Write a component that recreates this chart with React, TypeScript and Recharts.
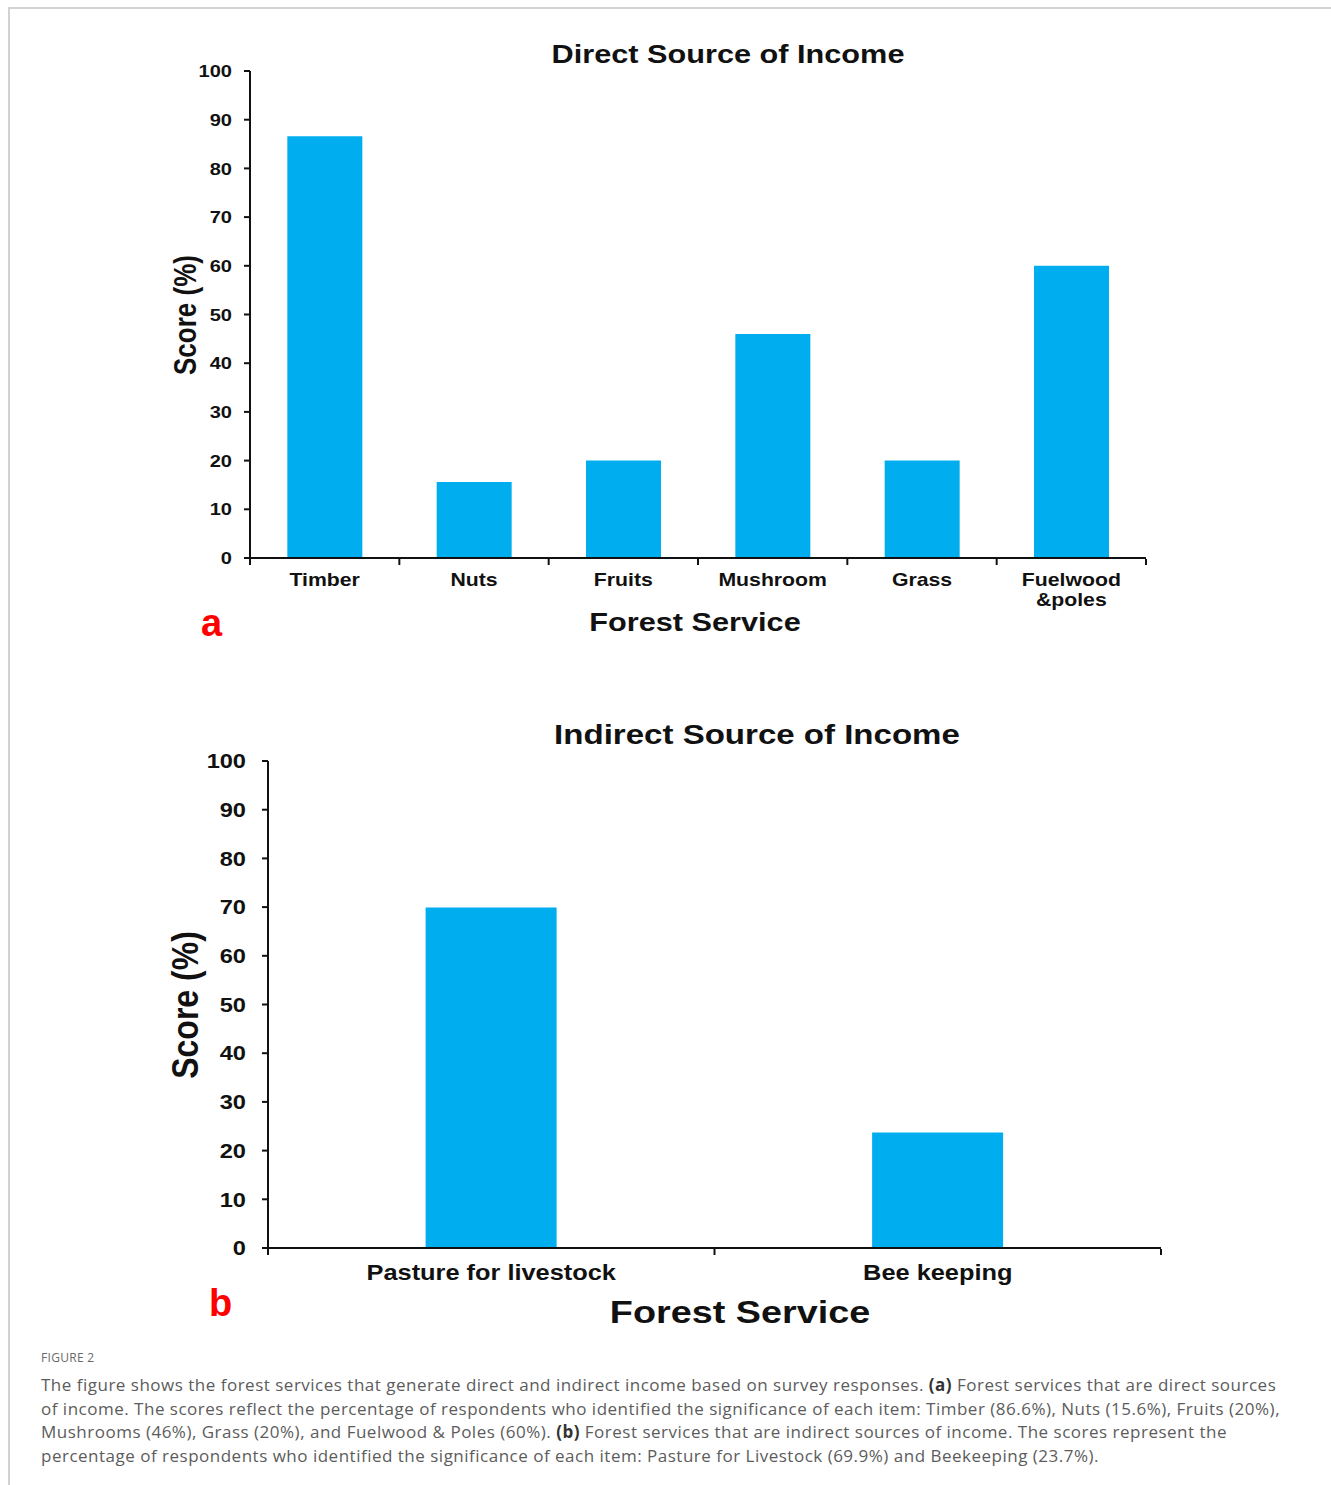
import { Bar, BarChart, XAxis, YAxis } from "recharts";

const directServices = ["Timber", "Nuts", "Fruits", "Mushroom", "Grass", "Fuelwood\n&poles"];
const directScores = [86.6, 15.6, 20, 46, 20, 60];
const indirectServices = ["Pasture for livestock", "Bee keeping"];
const indirectScores = [69.9, 23.7];
const scoreTicks = [0, 10, 20, 30, 40, 50, 60, 70, 80, 90, 100];

const BAR_COLOR = "#00aeef";
const INK = "#111";
const STRETCH = 1.18;
const FONT = '"Liberation Sans", Arial, Helvetica, sans-serif';

const directData = directServices.map((service, i) => ({ service, slot: i, score: directScores[i] }));
const indirectData = indirectServices.map((service, i) => ({ service, slot: i, score: indirectScores[i] }));

// tick marks sit on the category boundaries, so a hidden numeric axis draws them
const edgeTicks = (n: number) => Array.from({ length: n + 1 }, (_, i) => i);

function YTick(props: any) {
  const { x, y, payload, size } = props;
  return (
    <g transform={`translate(${x},${y}) scale(${STRETCH},1)`}>
      <text textAnchor="end" dy="0.36em" fontSize={size} fontWeight="bold" fill={INK} fontFamily={FONT}>
        {payload.value}
      </text>
    </g>
  );
}

function XTick(props: any) {
  const { x, y, payload, size, gap } = props;
  const lines = String(payload.value).split("\n");
  return (
    <g transform={`translate(${x},${y}) scale(${STRETCH},1)`}>
      {lines.map((line, i) => (
        <text
          key={i}
          y={i * gap}
          textAnchor="middle"
          dy="0.71em"
          fontSize={size}
          fontWeight="bold"
          fill={INK}
          fontFamily={FONT}
        >
          {line}
        </text>
      ))}
    </g>
  );
}

function Heading({ cx, top, size, children }: any) {
  return (
    <div
      style={{
        position: "absolute",
        left: cx - 400,
        width: 800,
        top,
        textAlign: "center",
        fontSize: size,
        lineHeight: 1,
        fontWeight: "bold",
        color: INK,
        whiteSpace: "nowrap",
        transform: `scaleX(${STRETCH})`,
      }}
    >
      {children}
    </div>
  );
}

function ScoreLabel({ cx, cy, size }: any) {
  return (
    <div
      style={{
        position: "absolute",
        left: cx - 150,
        top: cy - size / 2,
        width: 300,
        height: size,
        lineHeight: `${size}px`,
        textAlign: "center",
        fontSize: size,
        fontWeight: "bold",
        color: INK,
        transform: `rotate(-90deg) scaleY(${STRETCH})`,
      }}
    >
      Score (%)
    </div>
  );
}

function PanelLetter({ left, top, children }: any) {
  return (
    <div
      style={{
        position: "absolute",
        left,
        top,
        fontSize: 38,
        lineHeight: 1,
        fontWeight: "bold",
        color: "#ff0000",
      }}
    >
      {children}
    </div>
  );
}

function ScoreChart({ data, width, height, margin, gap, yTickSize, yTickMargin, xTickSize, xTickMargin }: any) {
  return (
    <BarChart width={width} height={height} data={data} margin={margin} barCategoryGap={gap}>
      <XAxis
        xAxisId="edge"
        dataKey="slot"
        type="number"
        domain={[0, data.length]}
        allowDataOverflow
        ticks={edgeTicks(data.length)}
        interval={0}
        height={1}
        axisLine={false}
        tickSize={6}
        tickLine={{ stroke: INK, strokeWidth: 2 }}
        tick={() => <g />}
      />
      <XAxis
        dataKey="service"
        height={1}
        interval={0}
        axisLine={{ stroke: INK, strokeWidth: 2 }}
        tickLine={false}
        tickSize={0}
        tickMargin={xTickMargin}
        tick={(p: any) => <XTick {...p} size={xTickSize} gap={20} />}
      />
      <YAxis
        width={60}
        domain={[0, 100]}
        ticks={scoreTicks}
        interval={0}
        axisLine={{ stroke: INK, strokeWidth: 2 }}
        tickLine={{ stroke: INK, strokeWidth: 2 }}
        tickSize={6}
        tickMargin={yTickMargin}
        tick={(p: any) => <YTick {...p} size={yTickSize} />}
      />
      <Bar dataKey="score" fill={BAR_COLOR} isAnimationActive={false} />
    </BarChart>
  );
}

export default function App() {
  return (
    <div
      style={{
        position: "absolute",
        left: 0,
        top: 0,
        width: 1331,
        height: 1485,
        background: "#fff",
        fontFamily: FONT,
        overflow: "hidden",
      }}
    >
      <div
        style={{
          position: "absolute",
          left: 8,
          top: 7,
          width: 1340,
          height: 1500,
          borderTop: "2px solid #d2d2d2",
          borderLeft: "2px solid #d2d2d2",
        }}
      />

      {/* (a) direct income */}
      <div style={{ position: "absolute", left: 0, top: 0 }}>
        <ScoreChart
          data={directData}
          width={1331}
          height={640}
          margin={{ top: 71, right: 185, bottom: 80, left: 190 }}
          gap="25%"
          yTickSize={17}
          yTickMargin={12}
          xTickSize={18}
          xTickMargin={15}
        />
      </div>
      <Heading cx={728} top={41} size={26}>
        Direct Source of Income
      </Heading>
      <Heading cx={695} top={609} size={26}>
        Forest Service
      </Heading>
      <ScoreLabel cx={185} cy={315} size={26} />
      <PanelLetter left={201} top={604}>
        a
      </PanelLetter>

      {/* (b) indirect income */}
      <div style={{ position: "absolute", left: 0, top: 700 }}>
        <ScoreChart
          data={indirectData}
          width={1331}
          height={620}
          margin={{ top: 61, right: 170, bottom: 70, left: 208 }}
          gap="35.3%"
          yTickSize={20}
          yTickMargin={16}
          xTickSize={21.5}
          xTickMargin={17}
        />
      </div>
      <Heading cx={757} top={721} size={28}>
        Indirect Source of Income
      </Heading>
      <Heading cx={740} top={1296} size={32}>
        Forest Service
      </Heading>
      <ScoreLabel cx={185} cy={1005} size={32} />
      <PanelLetter left={209} top={1284}>
        b
      </PanelLetter>

      {/* caption */}
      <div
        style={{
          position: "absolute",
          left: 41,
          top: 1352,
          fontFamily: '"Open Sans", sans-serif',
          fontSize: 12,
          lineHeight: "12px",
          color: "#6a6a6a",
          letterSpacing: 0.3,
        }}
      >
        FIGURE 2
      </div>
      <div
        style={{
          position: "absolute",
          left: 41,
          top: 1373,
          fontFamily: '"Open Sans", sans-serif',
          fontSize: 17,
          lineHeight: "23.7px",
          letterSpacing: 0.5,
          color: "#5c5c5c",
          whiteSpace: "nowrap",
        }}
      >
        <div>
          The figure shows the forest services that generate direct and indirect income based on survey responses.{" "}
          <b style={{ color: "#333" }}>(a)</b> Forest services that are direct sources
        </div>
        <div>
          of income. The scores reflect the percentage of respondents who identified the significance of each item:
          Timber (86.6%), Nuts (15.6%), Fruits (20%),
        </div>
        <div>
          Mushrooms (46%), Grass (20%), and Fuelwood &amp; Poles (60%). <b style={{ color: "#333" }}>(b)</b> Forest
          services that are indirect sources of income. The scores represent the
        </div>
        <div>
          percentage of respondents who identified the significance of each item: Pasture for Livestock (69.9%) and
          Beekeeping (23.7%).
        </div>
      </div>
    </div>
  );
}
